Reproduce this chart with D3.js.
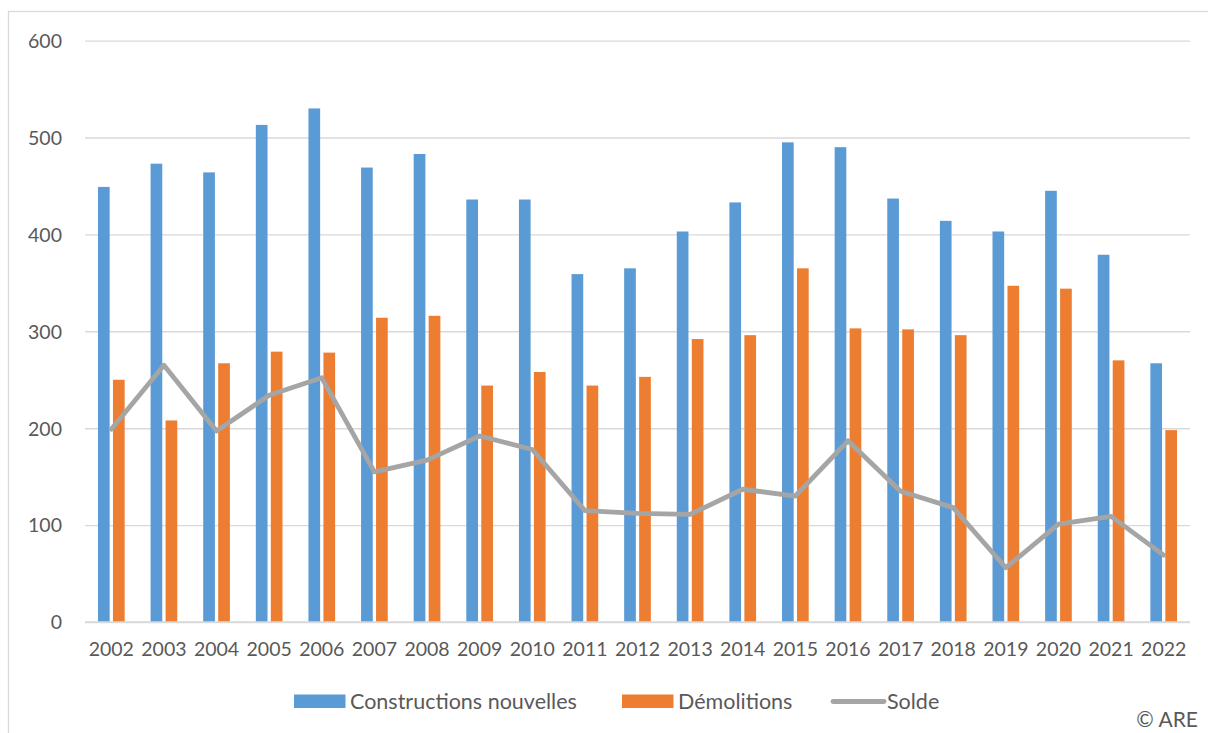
<!DOCTYPE html>
<html>
<head>
<meta charset="utf-8">
<script src="https://cdn.jsdelivr.net/npm/d3@7"></script>
<style>
  body { margin: 0; background: #fff; }
  svg text { font-family: Lato, "Liberation Sans", sans-serif; fill: #595959; }
</style>
</head>
<body>
<div id="chart"></div>
<script>
const years = ['2002','2003','2004','2005','2006','2007','2008','2009','2010','2011','2012',
  '2013','2014','2015','2016','2017','2018','2019','2020','2021','2022'];
const constructions = [449,473,464,513,530,469,483,436,436,359,365,403,433,495,490,437,414,403,445,379,267];
const demolitions = [250,208,267,279,278,314,316,244,258,244,253,292,296,365,303,302,296,347,344,270,198];
const solde = [199,265,197,234,252,155,167,192,178,115,112,111,137,130,187,135,118,56,101,109,69];
const yTicks = [0,100,200,300,400,500,600];

const seriesNames = ['Constructions nouvelles', 'Démolitions', 'Solde'];
const colors = ['#5b9bd5', '#ed7d31', '#a5a5a5'];

const width = 1208, height = 733;
const margin = { top: 40.6, right: 18, bottom: 111, left: 85 };
const W = width - margin.left - margin.right;
const H = height - margin.top - margin.bottom;

const svg = d3.select('#chart').append('svg')
  .attr('width', width).attr('height', height);

// chart frame (runs off the right/bottom edge like the source)
svg.append('rect')
  .attr('x', 8.5).attr('y', 11.5).attr('width', 1220).attr('height', 740)
  .attr('fill', 'none').attr('stroke', '#d9d9d9').attr('stroke-width', 1.3);

const g = svg.append('g').attr('transform', `translate(${margin.left},${margin.top})`);

const x = d3.scaleBand().domain(years).range([0, W]).paddingInner(0.493).paddingOuter(0.2465);
const xInner = d3.scaleBand().domain([0, 1]).range([0, x.bandwidth()]).paddingInner(0.22);
const y = d3.scaleLinear().domain([0, 600]).range([H, 0]);

// gridlines + y labels
const yAxis = g.append('g')
  .call(d3.axisLeft(y).tickValues(yTicks).tickSize(-W).tickPadding(23));
yAxis.select('.domain').remove();
yAxis.selectAll('.tick line').attr('stroke', '#d9d9d9').attr('stroke-width', 1.4);
yAxis.selectAll('.tick text').attr('font-size', '19.5px').attr('dy', '0.35em').style('fill', '#595959');

// bars
const groups = g.selectAll('.year').data(years).join('g')
  .attr('class', 'year')
  .attr('transform', d => `translate(${x(d)},0)`);

groups.append('rect')
  .attr('x', xInner(0)).attr('width', xInner.bandwidth())
  .attr('y', (d, i) => y(constructions[i]))
  .attr('height', (d, i) => H - y(constructions[i]))
  .attr('fill', colors[0]);

groups.append('rect')
  .attr('x', xInner(1)).attr('width', xInner.bandwidth())
  .attr('y', (d, i) => y(demolitions[i]))
  .attr('height', (d, i) => H - y(demolitions[i]))
  .attr('fill', colors[1]);

// baseline
g.append('line').attr('x1', 0).attr('x2', W).attr('y1', H).attr('y2', H)
  .attr('stroke', '#d9d9d9').attr('stroke-width', 1.5);

// x labels
const xAxis = g.append('g').attr('transform', `translate(0,${H})`)
  .call(d3.axisBottom(x).tickSize(0).tickPadding(20));
xAxis.select('.domain').remove();
xAxis.selectAll('.tick text').attr('font-size', '19.5px').style('fill', '#595959');

// solde line
const line = d3.line()
  .x((d, i) => x(years[i]) + x.bandwidth() / 2)
  .y(d => y(d));
g.append('path').datum(solde)
  .attr('d', line)
  .attr('fill', 'none').attr('stroke', colors[2]).attr('stroke-width', 4.8)
  .attr('stroke-linejoin', 'round').attr('stroke-linecap', 'round');

// legend
const legend = svg.append('g').attr('font-size', '21.5px');
const legItems = [
  { name: seriesNames[0], color: colors[0], type: 'rect', x: 294, tx: 350 },
  { name: seriesNames[1], color: colors[1], type: 'rect', x: 622, tx: 678 },
  { name: seriesNames[2], color: colors[2], type: 'line', x: 831, tx: 887 }
];
legItems.forEach(d => {
  if (d.type === 'rect') {
    legend.append('rect').attr('x', d.x).attr('y', 694.5).attr('width', 51.5).attr('height', 13.5)
      .attr('fill', d.color);
  } else {
    legend.append('line').attr('x1', d.x + 2).attr('x2', d.x + 53).attr('y1', 701.5).attr('y2', 701.5)
      .attr('stroke', d.color).attr('stroke-width', 4.8).attr('stroke-linecap', 'round');
  }
  legend.append('text').attr('x', d.tx).attr('y', 709).text(d.name);
});

// source credit
svg.append('text').attr('x', 1198).attr('y', 727).attr('text-anchor', 'end')
  .attr('font-size', '21px').text('© ARE');
</script>
</body>
</html>
